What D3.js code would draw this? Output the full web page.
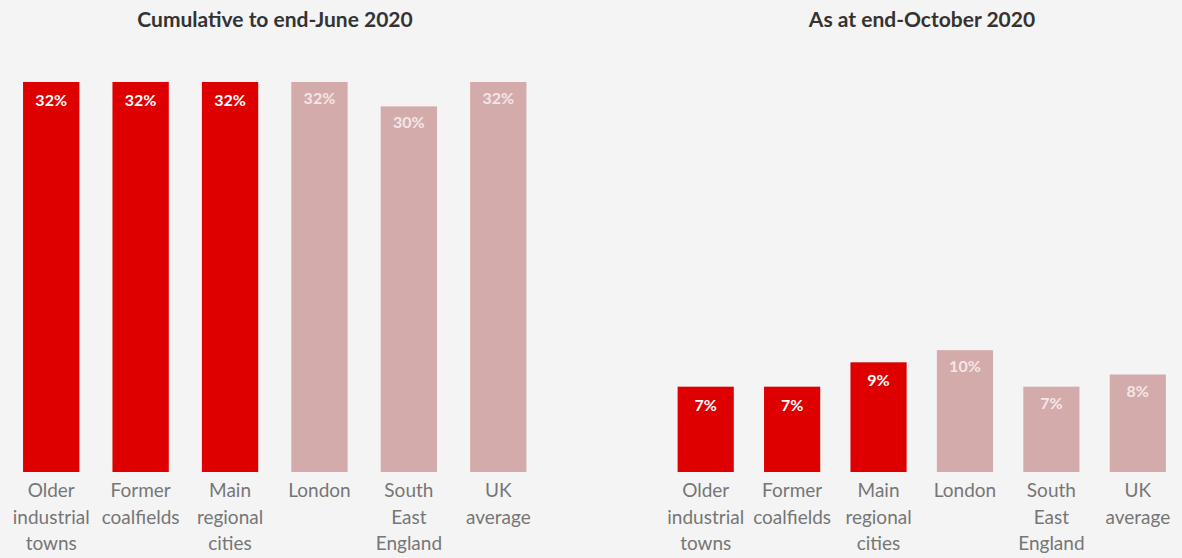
<!DOCTYPE html>
<html>
<head>
<meta charset="utf-8">
<script src="https://cdn.jsdelivr.net/npm/d3@7"></script>
<style>
  body { margin: 0; background: #f4f4f4; }
  svg { display: block; font-family: Lato, "Open Sans", sans-serif; }
</style>
</head>
<body>
<div id="chart"></div>
<script>
// categories (each label split into lines)
let categories = [
  ["Older", "industrial", "towns"],
  ["Former", "coalfields"],
  ["Main", "regional", "cities"],
  ["London"],
  ["South", "East", "England"],
  ["UK", "average"]
];
// which categories are the highlighted group
let highlighted = [true, true, true, false, false, false];

let titles = ["Cumulative to end-June 2020", "As at end-October 2020"];
let juneValues = [32, 32, 32, 32, 30, 32];
let octoberValues = [7, 7, 9, 10, 7, 8];

let width = 1182, height = 558;
let baseline = 472;

let svg = d3.select("#chart")
  .append("svg")
  .attr("width", width)
  .attr("height", height);

svg.append("rect")
  .attr("width", width)
  .attr("height", height)
  .attr("fill", "#f4f4f4");

// shared value scale, both panels use the same height per percent
let y = d3.scaleLinear()
  .domain([0, 32])
  .range([baseline, 82]);

let panels = [
  {title: titles[0], values: juneValues, range: [6.5, 543], padding: 0.37, cx: 275},
  {title: titles[1], values: octoberValues, range: [662.5, 1181], padding: 0.35, cx: 922}
];

panels.forEach(function(p) {
  let x = d3.scaleBand()
    .domain(d3.range(categories.length))
    .range(p.range)
    .paddingInner(p.padding)
    .paddingOuter(p.padding / 2);

  let g = svg.append("g");

  g.append("text")
    .attr("x", p.cx)
    .attr("y", 27)
    .attr("text-anchor", "middle")
    .style("font-size", "21px")
    .style("font-weight", "bold")
    .style("fill", "#333")
    .text(p.title);

  g.selectAll("rect.bar")
    .data(p.values)
    .enter().append("rect")
      .attr("class", "bar")
      .attr("x", (d, i) => x(i))
      .attr("y", d => y(d))
      .attr("width", x.bandwidth())
      .attr("height", d => baseline - y(d))
      .attr("fill", (d, i) => highlighted[i] ? "#de0000" : "#d4abab");

  g.selectAll("text.val")
    .data(p.values)
    .enter().append("text")
      .attr("class", "val")
      .attr("x", (d, i) => x(i) + x.bandwidth() / 2)
      .attr("y", (d, i) => y(d) + (highlighted[i] ? 24 : 22))
      .attr("text-anchor", "middle")
      .style("font-size", "16px")
      .style("font-weight", "bold")
      .style("fill", (d, i) => highlighted[i] ? "#ffffff" : "#f4e6e6")
      .text(d => d + "%");

  let labels = g.selectAll("text.cat")
    .data(categories)
    .enter().append("text")
      .attr("class", "cat")
      .attr("text-anchor", "middle")
      .style("font-size", "19px")
      .style("fill", "#767676");

  labels.selectAll("tspan")
    .data((d, i) => d.map(line => [line, i]))
    .enter().append("tspan")
      .attr("x", d => x(d[1]) + x.bandwidth() / 2)
      .attr("y", (d, j) => 497 + j * 26.5)
      .text(d => d[0]);
});
</script>
</body>
</html>
